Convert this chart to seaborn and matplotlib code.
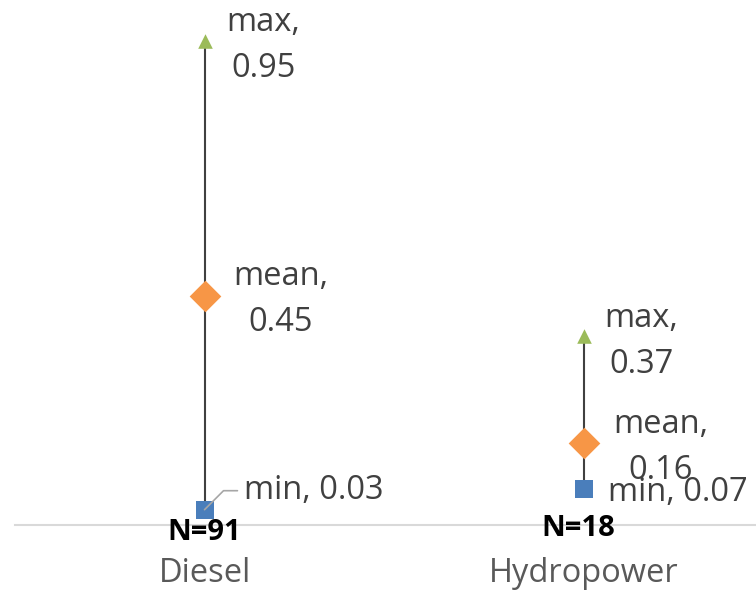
import matplotlib
matplotlib.use("Agg")
import matplotlib.pyplot as plt
import seaborn as sns
import pandas as pd

categories = ["Diesel", "Hydropower"]
min_vals = [0.03, 0.07]
mean_vals = [0.45, 0.16]
max_vals = [0.95, 0.37]
n_labels = ["N=91", "N=18"]

sns.set_style("white")
plt.rcParams['font.family'] = ['Open Sans', 'DejaVu Sans']

fig = plt.figure(figsize=(7.56, 5.9), dpi=100)
ax = fig.add_axes([15/756, 65/590, 741/756, 510/590])

xs = list(range(len(categories)))
ax.vlines(xs, min_vals, max_vals, color="#404040", linewidth=1.5, zorder=1)

df = pd.DataFrame({
    "x": xs * 3,
    "y": min_vals + mean_vals + max_vals,
    "stat": ["min"] * 2 + ["mean"] * 2 + ["max"] * 2,
})
colors = {"min": "#4a7ebb", "mean": "#f79646", "max": "#9bbb59"}
markers = {"min": "s", "mean": "D", "max": "^"}
sizes = {"min": 150, "mean": 260, "max": 110}
for stat in ["min", "mean", "max"]:
    sub = df[df["stat"] == stat]
    sns.scatterplot(data=sub, x="x", y="y", color=colors[stat], marker=markers[stat],
                    s=sizes[stat], linewidth=0, ax=ax, zorder=3, legend=False)

txt_color = "#404040"
fs = 23.5
ls = 1.5
# max labels
for x, v, dx in zip(xs, max_vals, [59, 58]):
    ax.annotate(f"max,\n{v:.2f}", (x, v), xytext=(dx, -5), textcoords="offset pixels",
                ha="center", va="center", fontsize=fs, color=txt_color, linespacing=ls)
# mean labels
for x, v, dx in zip(xs, mean_vals, [76, 77]):
    ax.annotate(f"mean,\n{v:.2f}", (x, v), xytext=(dx, -4), textcoords="offset pixels",
                ha="center", va="center", fontsize=fs, color=txt_color, linespacing=ls)
# min labels
ax.annotate(f"min, {min_vals[0]:.2f}", (xs[0], min_vals[0]), xytext=(39, 19),
            textcoords="offset pixels", ha="left", va="center", fontsize=fs, color=txt_color,
            arrowprops=dict(arrowstyle="-", color="#a6a6a6", lw=1.2,
                            connectionstyle="angle,angleA=0,angleB=45,rad=0",
                            shrinkA=2, shrinkB=0, relpos=(0, 0.5)))
ax.annotate(f"min, {min_vals[1]:.2f}", (xs[1], min_vals[1]), xytext=(24, -3),
            textcoords="offset pixels", ha="left", va="center", fontsize=fs, color=txt_color)

# N labels
for x, lab, dy in zip(xs, n_labels, [-0.015, -0.007]):
    ax.text(x - (0 if x == 0 else 0.013), dy, lab, ha="center", va="center", fontsize=21,
            fontweight="bold", color="black", clip_on=False)

ax.set_xlim(-0.5, 1.455)
ax.set_ylim(0, 1)
ax.set_xticks(xs)
ax.set_xticklabels(categories, fontsize=fs, color="#595959")
ax.tick_params(axis="x", length=0, pad=23)
ax.set_yticks([])
ax.set_xlabel("")
ax.set_ylabel("")
for s in ["top", "right", "left"]:
    ax.spines[s].set_visible(False)
ax.spines["bottom"].set_color("#d9d9d9")
ax.spines["bottom"].set_linewidth(1.5)

fig.savefig("out.png", dpi=100)
